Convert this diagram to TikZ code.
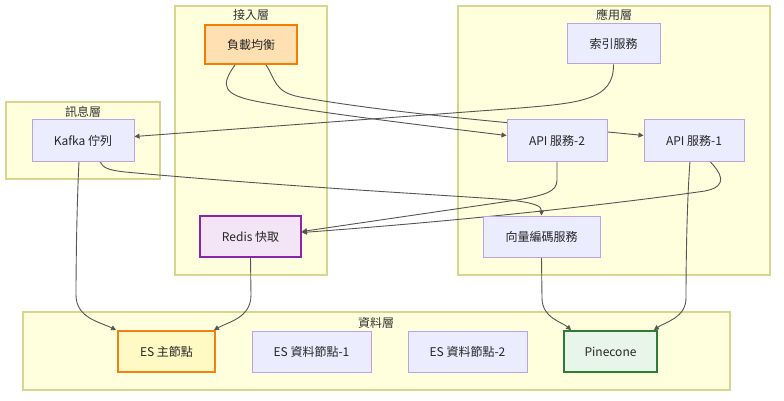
\documentclass[tikz,border=0pt]{standalone}
\usepackage{fontspec}
\setmainfont{Noto Sans CJK TC}
\usetikzlibrary{arrows.meta,calc}
\definecolor{clfill}{HTML}{FFFFDE}
\definecolor{cldraw}{HTML}{D6D68E}
\definecolor{nfill}{HTML}{ECECFF}
\definecolor{ndraw}{HTML}{B9A3EA}
\definecolor{lbfill}{HTML}{FFE0B2}
\definecolor{lbdraw}{HTML}{F57C00}
\definecolor{rdfill}{HTML}{F3E5F5}
\definecolor{rddraw}{HTML}{8E24AA}
\definecolor{esfill}{HTML}{FFF9C4}
\definecolor{esdraw}{HTML}{F57F17}
\definecolor{pcfill}{HTML}{E8F5E9}
\definecolor{pcdraw}{HTML}{2E7D32}
\definecolor{edgec}{HTML}{555555}
\pgfdeclarelayer{bg}
\pgfdeclarelayer{edges}
\pgfsetlayers{bg,edges,main}
\tikzset{
  box/.style={draw=ndraw,fill=nfill,line width=1pt,minimum height=41pt,inner sep=0pt,
    font=\fontsize{12}{14}\selectfont,text=black!85},
  lbbox/.style={box,draw=lbdraw,fill=lbfill,line width=1.8pt},
  rdbox/.style={box,draw=rddraw,fill=rdfill,line width=1.8pt},
  esbox/.style={box,draw=esdraw,fill=esfill,line width=1.8pt},
  pcbox/.style={box,draw=pcdraw,fill=pcfill,line width=1.8pt},
  cluster/.style={draw=cldraw,fill=clfill,line width=1.2pt},
  cltitle/.style={font=\fontsize{12}{14}\selectfont,text=black!80,inner sep=0pt},
  edge/.style={draw=edgec,line width=0.9pt,-{Triangle[length=5pt,width=5pt]}},
}
\begin{document}
\begin{tikzpicture}[x=1pt,y=-1pt]
\useasboundingbox (0,0) rectangle (784,401);
% nodes
\node[lbbox,minimum width=92pt,minimum height=39pt] (lb) at (251,44.5) {負載均衡};
\node[rdbox,minimum width=101pt] (redis) at (250.5,236.5) {Redis 快取};
\node[box,minimum width=102pt] (kafka) at (83,140.5) {Kafka 佇列};
\node[box,minimum width=93pt,minimum height=40pt] (idx) at (613.5,44) {索引服務};
\node[box,minimum width=100pt] (api2) at (557,140.5) {API 服務-2};
\node[box,minimum width=100pt] (api1) at (694,140.5) {API 服務-1};
\node[box,minimum width=117pt] (vec) at (541.5,236.5) {向量編碼服務};
\node[esbox,minimum width=97pt] (esm) at (166.5,351.5) {ES 主節點};
\node[box,minimum width=119pt] (es1) at (311.5,351.5) {ES 資料節點-1};
\node[box,minimum width=119pt] (es2) at (467.5,351.5) {ES 資料節點-2};
\node[pcbox,minimum width=93pt] (pine) at (610.5,351.5) {Pinecone};
% clusters
\begin{pgfonlayer}{bg}
\draw[cluster] (6,102) rectangle (160,179);
\draw[cluster] (175,6) rectangle (327,275);
\draw[cluster] (458,6) rectangle (770,275);
\draw[cluster] (23,312) rectangle (730,390);
\end{pgfonlayer}
\node[cltitle] (tmsg) at (83,112) {訊息層};
\node[cltitle] (tacc) at (251,15) {接入層};
\node[cltitle] (tapp) at (614,15) {應用層};
\node[cltitle] (tdat) at (376,323) {資料層};
% edges
\begin{pgfonlayer}{edges}
\draw[edge] ([xshift=-16pt]lb.south) .. controls (220,86) and (222,95) .. (260,102)
  .. controls (320,113) and (420,125) .. ([yshift=5pt]api2.west);
\draw[edge] ([xshift=15pt]lb.south) .. controls (276,80) and (274,92) .. (300,97)
  .. controls (400,115) and (550,126) .. ([yshift=5pt]api1.west);
\draw[edge] (idx.south) .. controls (614,100) and (580,103) .. (520,108)
  -- ([yshift=4pt]kafka.east);
\draw[edge] ([xshift=17pt]kafka.south) .. controls (103,168) and (108,170) .. (125,172)
  .. controls (300,188) and (480,197) .. (510,200)
  .. controls (535,203) and (541.5,206) .. (vec.north);
\draw[edge] ([xshift=-4pt]kafka.south) .. controls (77,200) and (76,260) .. (76,295)
  .. controls (76,318) and (100,322) .. ([xshift=-1pt]esm.north west);
\draw[edge] (redis.south) -- (251,295)
  .. controls (251,318) and (228,322) .. ([xshift=-2pt]esm.north east);
\draw[edge] (api2.south) -- (557,180) .. controls (557,192) and (545,195) .. (517,200)
  -- ([yshift=5pt]redis.east);
\draw[edge] ([xshift=16pt]api1.south) .. controls (720,172) and (730,186) .. (705,191)
  .. controls (650,199) and (500,218) .. ([yshift=4pt]redis.east);
\draw[edge] ([xshift=-4pt]api1.south) .. controls (687,200) and (686,260) .. (686,298)
  .. controls (686,318) and (665,322) .. ([xshift=-4pt]pine.north east);
\draw[edge] (vec.south) -- (542,298) .. controls (542,318) and (562,322) .. ([xshift=8pt]pine.north west);
\end{pgfonlayer}
\end{tikzpicture}
\end{document}
